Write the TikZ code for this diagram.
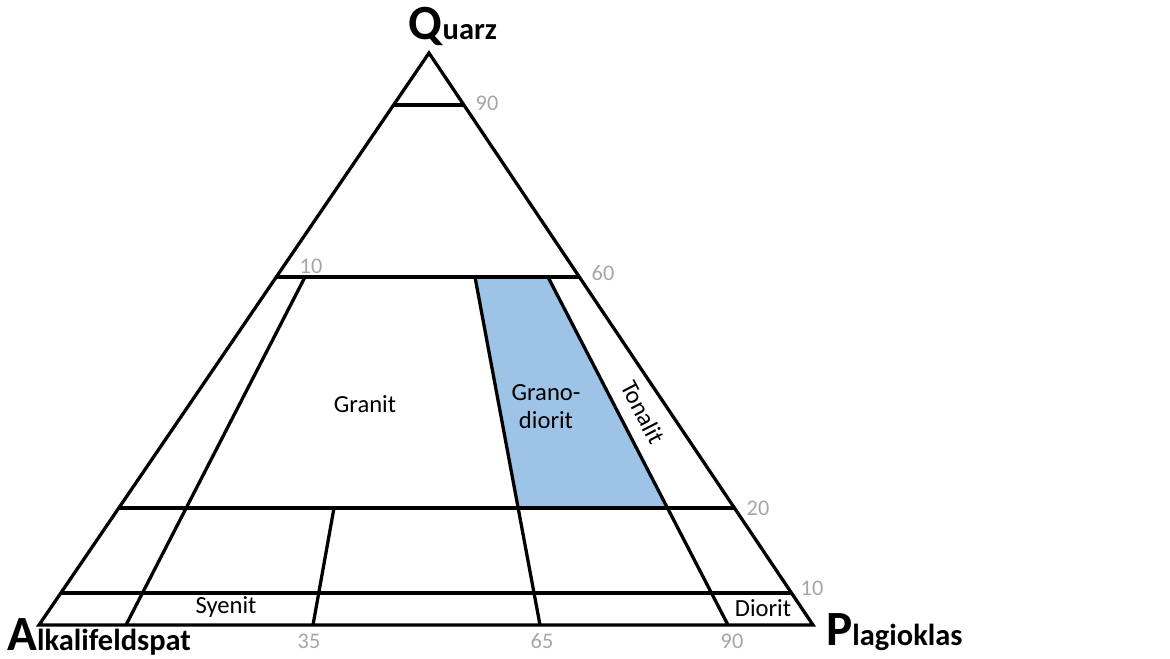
\documentclass[tikz,border=0pt]{standalone}
\usepackage{fontspec}
\setmainfont{Carlito}
\usetikzlibrary{positioning}
\definecolor{granoblue}{HTML}{9DC3E6}
\tikzset{
    field/.style={line width=2.8pt, line join=miter}, % lines of the diagram
    rock/.style={font=\fontsize{21}{24}\selectfont, align=center}, % rock names
    tick/.style={text=gray!70, font=\fontsize{19}{21}\selectfont}, % percentages
    corner/.style={font=\bfseries\fontsize{26}{28}\selectfont, inner sep=0pt},
}
\newcommand{\bigfirst}[2]{{\fontsize{42}{44}\selectfont #1}#2}
\begin{document}
\begin{tikzpicture}[x=0.03cm, y=-0.03cm]
    \useasboundingbox (0,0) rectangle (1170,658);
    % Ecken
    \coordinate (Q) at (429,53);
    \coordinate (A) at (39,625);
    \coordinate (P) at (813,625);
    % Granodiorit
    \fill[granoblue] (475,277) -- (548,277) -- (667.5,508) -- (518,508) -- cycle;
    % Linien
    \draw[field] (Q) -- (A) -- (P) -- cycle;
    \draw[field] (393.5,105) -- (464,105);
    \draw[field] (276,277) -- (579,277);
    \draw[field] (119,508) -- (734,508);
    \draw[field] (61,593) -- (791.5,593);
    \draw[field] (305,277) -- (126,625);
    \draw[field] (475,277) -- (540,625);
    \draw[field] (548,277) -- (728,625);
    \draw[field] (334,508) -- (313,625);
    % Namen
    \node[rock] (granit) at (365,404) {Granit};
    \node[rock] (grano) at (546,407) {Grano-\\diorit};
    \node[rock, rotate=-62.6] (tonalit) at (643,412) {Tonalit};
    \node[rock] (syenit) at (226,607) {Syenit};
    \node[rock] (diorit) at (763,608) {Diorit};
    % Werte
    \node[tick] (t90) at (487,103) {90};
    \node[tick] (t10a) at (311,266) {10};
    \node[tick] (t60) at (603,273) {60};
    \node[tick] (t20) at (758,508) {20};
    \node[tick] (t10b) at (812,588) {10};
    \node[tick] (t35) at (309,641) {35};
    \node[tick] (t65) at (542,641) {65};
    \node[tick] (t90b) at (732,641) {90};
    % Titel
    \node[corner, anchor=base] (quarz) at (453,39) {\bigfirst{Q}{uarz}};
    \node[corner, anchor=base west] (alkali) at (7,650) {\bigfirst{A}{lkalifeldspat}};
    \node[corner, anchor=base west] (plagio) at (826,645) {\bigfirst{P}{lagioklas}};
\end{tikzpicture}
\end{document}
